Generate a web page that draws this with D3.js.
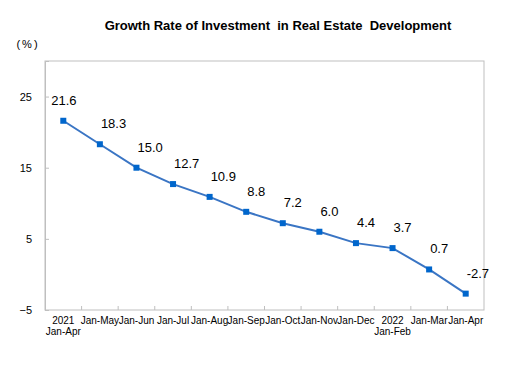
<!DOCTYPE html>
<html>
<head>
<meta charset="utf-8">
<script src="https://cdn.jsdelivr.net/npm/d3@7"></script>
<style>
  body { margin: 0; background: #fff; }
  text { font-family: "Liberation Sans", Arial, sans-serif; white-space: pre; }
</style>
</head>
<body>
<svg id="chart" width="513" height="378"></svg>
<script>
const categories = ['2021|Jan-Apr', 'Jan-May', 'Jan-Jun', 'Jan-Jul', 'Jan-Aug', 'Jan-Sep',
  'Jan-Oct', 'Jan-Nov', 'Jan-Dec', '2022|Jan-Feb', 'Jan-Mar', 'Jan-Apr'];
const growthValues = [21.6, 18.3, 15.0, 12.7, 10.9, 8.8, 7.2, 6.0, 4.4, 3.7, 0.7, -2.7];
const yTicks = [-5, 5, 15, 25];
const title = 'Growth Rate of Investment  in Real Estate  Development';
const unitLabel = '(%)';

const margin = { top: 61, right: 29, bottom: 68, left: 45 };
const width = 513, height = 378;
const innerW = width - margin.left - margin.right;
const innerH = height - margin.top - margin.bottom;

const svg = d3.select('#chart');

svg.append('text')
  .attr('x', 278)
  .attr('y', 30)
  .attr('text-anchor', 'middle')
  .attr('font-size', 13)
  .attr('font-weight', 'bold')
  .text(title);

svg.append('text')
  .attr('x', 28)
  .attr('y', 48)
  .attr('text-anchor', 'middle')
  .attr('font-size', 11)
  .attr('letter-spacing', 2)
  .text(unitLabel);

const g = svg.append('g').attr('transform', `translate(${margin.left},${margin.top})`);

const scaleX = d3.scaleBand().domain(d3.range(categories.length)).range([0, innerW]);
const scaleY = d3.scaleLinear().domain([-5, 30]).range([innerH, 0]);

// plot frame
g.append('rect')
  .attr('width', innerW)
  .attr('height', innerH)
  .attr('fill', 'none')
  .attr('stroke', '#BFBFBF');

// y axis
const axisY = d3.axisLeft(scaleY).tickValues(yTicks).tickSize(-4).tickPadding(13);
const groupY = g.append('g').call(axisY);
groupY.select('.domain').attr('stroke', '#BFBFBF');
groupY.selectAll('.tick line').attr('stroke', '#BFBFBF');
groupY.selectAll('.tick text').attr('font-size', 11).attr('fill', '#000')
  .attr('font-family', '"Liberation Sans", Arial, sans-serif');

// x axis: ticks at band boundaries
const groupX = g.append('g').attr('transform', `translate(0,${innerH})`);
groupX.selectAll('line.tick')
  .data(d3.range(1, categories.length))
  .enter()
  .append('line')
  .attr('class', 'tick')
  .attr('x1', d => scaleX(d))
  .attr('x2', d => scaleX(d))
  .attr('y1', 0)
  .attr('y2', -4)
  .attr('stroke', '#BFBFBF');

groupX.selectAll('text.cat')
  .data(categories)
  .enter()
  .append('text')
  .attr('class', 'cat')
  .attr('text-anchor', 'middle')
  .attr('font-size', 10)
  .attr('transform', (d, i) => `translate(${scaleX(i) + scaleX.bandwidth() / 2},14)`)
  .each(function (d) {
    const parts = d.split('|');
    d3.select(this).selectAll('tspan')
      .data(parts)
      .enter()
      .append('tspan')
      .attr('x', 0)
      .attr('dy', (p, k) => k === 0 ? 0 : 11)
      .text(p => p);
  });

// line
const cx = i => scaleX(i) + scaleX.bandwidth() / 2;
const line = d3.line().x((d, i) => cx(i)).y(d => scaleY(d));

g.append('path')
  .datum(growthValues)
  .attr('d', line)
  .attr('fill', 'none')
  .attr('stroke', '#3A75C4')
  .attr('stroke-width', 2);

g.selectAll('rect.point')
  .data(growthValues)
  .enter()
  .append('rect')
  .attr('class', 'point')
  .attr('x', (d, i) => cx(i) - 3)
  .attr('y', d => scaleY(d) - 3)
  .attr('width', 6)
  .attr('height', 6)
  .attr('fill', '#0066CC');

g.selectAll('text.value')
  .data(growthValues)
  .enter()
  .append('text')
  .attr('class', 'value')
  .attr('x', (d, i) => i === 0 ? cx(i) - 12 : cx(i) + 1)
  .attr('y', d => scaleY(d) - 16)
  .attr('text-anchor', 'start')
  .attr('font-size', 13)
  .text(d => d.toFixed(1));
</script>
</body>
</html>
